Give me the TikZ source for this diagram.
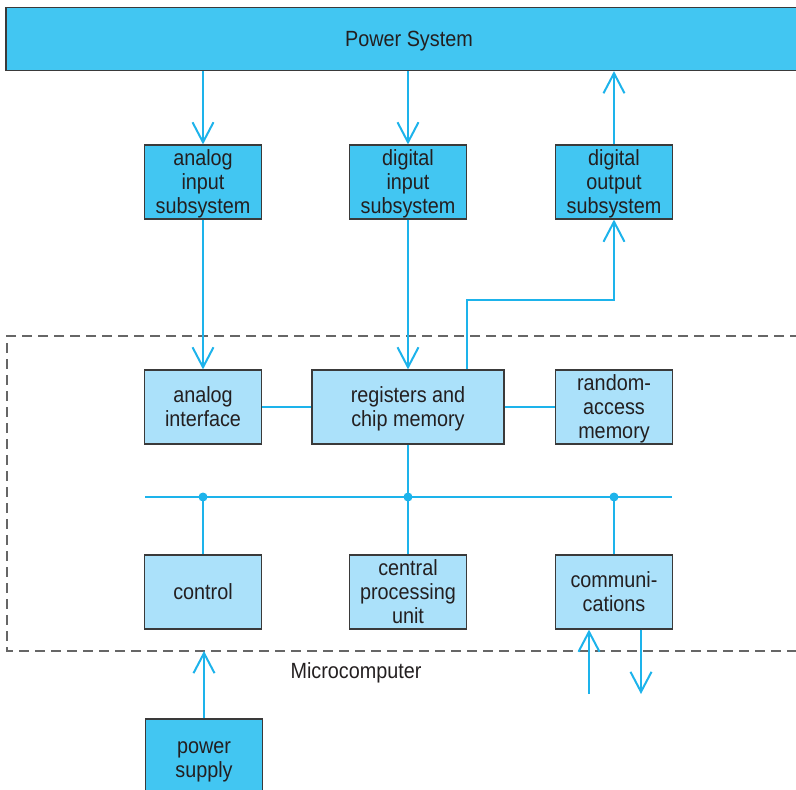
\documentclass[tikz,border=0pt]{standalone}
\usepackage{fontspec}
\setmainfont{Liberation Sans}[FakeStretch=0.9]
\usepackage{xcolor}
\usetikzlibrary{arrows.meta}

\definecolor{darkfill}{HTML}{42C6F2}
\definecolor{lightfill}{HTML}{ABE1FA}
\definecolor{wire}{HTML}{1DB3EB}
\definecolor{edge}{HTML}{3A3A3A}
\definecolor{ink}{HTML}{231F20}

\begin{document}
\begin{tikzpicture}[
    x=1pt, y=-1pt,
    font=\fontsize{22}{24}\selectfont,
    every node/.style={align=center, text=ink, text depth=0pt},
    box/.style={
        rectangle,
        draw=edge,
        line width=1.2pt,
        inner sep=0pt,
        minimum width=117pt,
        minimum height=74pt
    },
    outer/.style={box, fill=darkfill},
    inner/.style={box, fill=lightfill},
    line/.style={draw=wire, line width=2pt},
    arrow/.style={line, -{Straight Barb[length=20pt, width=21pt]}},
    frame/.style={draw=black!60, line width=1.5pt, dash pattern=on 10pt off 6pt},
    dot/.style={circle, fill=wire, inner sep=0pt, minimum size=9pt},
]
\useasboundingbox (0,0) rectangle (796,790);

% Top bar
\node[outer, minimum width=806pt, minimum height=63pt] (power) at (409,39) {Power System};

% Subsystems
\node[outer] (ain)  at (203,182) {analog\\input\\subsystem};
\node[outer] (din)  at (408,182) {digital\\input\\subsystem};
\node[outer] (dout) at (614,182) {digital\\output\\subsystem};

% Microcomputer frame
\coordinate (frameTL) at (7,336);
\coordinate (frameTR) at (800,336);
\coordinate (frameBL) at (7,651);
\coordinate (frameBR) at (800,651);
\draw[frame] (frameTR) -- (frameTL) -- (frameBL) -- (frameBR);
\node (micro) at (356,671) {Microcomputer};

% First row inside
\node[inner] (aif) at (203,407) {analog\\interface};
\node[inner, minimum width=192pt] (reg) at (408,407) {registers and\\chip memory};
\node[inner] (ram) at (614,407) {random-\\access\\memory};

% Bus
\coordinate (busL) at (145,497);
\coordinate (busR) at (672,497);

% Second row inside
\node[inner] (ctrl) at (203,592) {control};
\node[inner] (cpu)  at (408,592) {central\\processing\\unit};
\node[inner] (comm) at (614,592) {communi-\\cations};

% Power supply
\node[outer, minimum height=82pt] (psu) at (204,760) {power\\supply};

% Free ends
\coordinate (turn) at (467,300);
\coordinate (cin)  at (589,694);
\coordinate (cout) at (641,694);

% Connections
\draw[arrow] (power.south -| ain) -- (ain.north);
\draw[arrow] (power.south -| din) -- (din.north);
\draw[arrow] (dout.north) -- (dout.north |- power.south);

\draw[arrow] (ain.south) -- (aif.north);
\draw[arrow] (din.south) -- (reg.north -| din);
\draw[arrow] (turn |- reg.north) -- (turn) -| (dout.south);

\draw[line] (aif.east) -- (reg.west);
\draw[line] (reg.east) -- (ram.west);

\draw[line] (busL) -- (busR);
\draw[line] (reg.south) -- (reg.south |- busL);
\draw[line] (ctrl.north) -- (ctrl.north |- busL);
\draw[line] (cpu.north) -- (cpu.north |- busL);
\draw[line] (comm.north) -- (comm.north |- busL);
\node[dot] (d1) at (ctrl.north |- busL) {};
\node[dot] (d2) at (reg.south |- busL) {};
\node[dot] (d3) at (comm.north |- busL) {};

\draw[arrow] (cin) -- (cin |- comm.south);
\draw[arrow] (cout |- comm.south) -- (cout);

\draw[arrow] (psu.north) -- (psu.north |- frameBL);

\end{tikzpicture}
\end{document}
